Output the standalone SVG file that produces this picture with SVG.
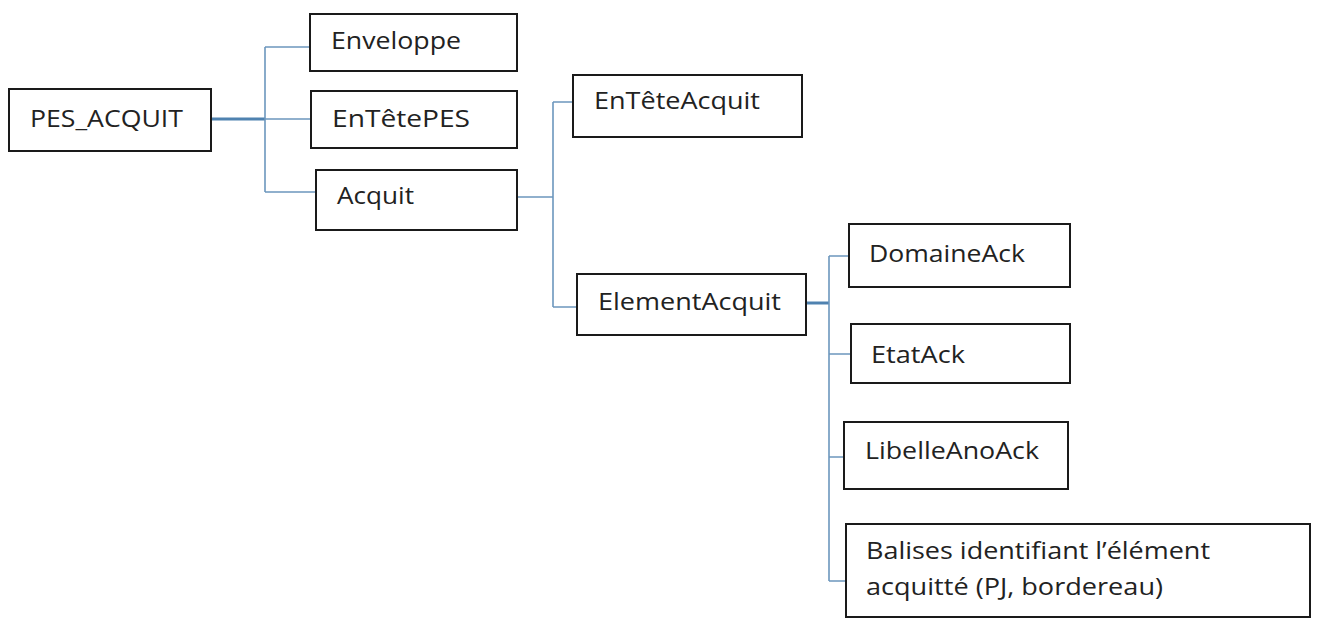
<svg xmlns="http://www.w3.org/2000/svg" width="1318" height="622" viewBox="0 0 1318 622">
<style>
.box{fill:#fff;stroke:#1a1a1a;stroke-width:2}
.t{font-family:"Open Sans","Noto Sans",sans-serif;font-size:23px;fill:#222}
.c{fill:none;stroke:#6c97bd;stroke-width:1.6}
.ck{fill:none;stroke:#4f82b0;stroke-width:3}
</style>
<rect width="1318" height="622" fill="#fff"/>
<g id="connectors">
<path class="ck" d="M211 119H265"/>
<path class="c" d="M265 119H311M265 47V192M265 47H310M265 192H316"/>
<path class="c" d="M517 197H553M553 102V307M553 102H573M553 307H577"/>
<path class="ck" d="M806 303H829"/>
<path class="c" d="M829 256V581M829 256H849M829 354H851M829 457H844M829 581H846"/>
</g>
<g id="PES_ACQUIT"><rect class="box" x="9" y="89" width="202" height="62"/><text class="t" x="30" y="127" textLength="153" lengthAdjust="spacingAndGlyphs">PES_ACQUIT</text></g>
<g id="Enveloppe"><rect class="box" x="310" y="14" width="207" height="57"/><text class="t" x="331" y="49" textLength="130" lengthAdjust="spacingAndGlyphs">Enveloppe</text></g>
<g id="EnTetePES"><rect class="box" x="311" y="91" width="206" height="57"/><text class="t" x="332" y="127" textLength="138" lengthAdjust="spacingAndGlyphs">EnTêtePES</text></g>
<g id="Acquit"><rect class="box" x="316" y="170" width="201" height="60"/><text class="t" x="337" y="204" textLength="77" lengthAdjust="spacingAndGlyphs">Acquit</text></g>
<g id="EnTeteAcquit"><rect class="box" x="573" y="75" width="229" height="62"/><text class="t" x="594" y="109" textLength="166" lengthAdjust="spacingAndGlyphs">EnTêteAcquit</text></g>
<g id="ElementAcquit"><rect class="box" x="577" y="274" width="229" height="61"/><text class="t" x="598" y="310" textLength="183" lengthAdjust="spacingAndGlyphs">ElementAcquit</text></g>
<g id="DomaineAck"><rect class="box" x="849" y="224" width="221" height="63"/><text class="t" x="869" y="262" textLength="156" lengthAdjust="spacingAndGlyphs">DomaineAck</text></g>
<g id="EtatAck"><rect class="box" x="851" y="324" width="219" height="59"/><text class="t" x="871" y="363" textLength="94" lengthAdjust="spacingAndGlyphs">EtatAck</text></g>
<g id="LibelleAnoAck"><rect class="box" x="844" y="422" width="224" height="67"/><text class="t" x="865" y="459" textLength="174" lengthAdjust="spacingAndGlyphs">LibelleAnoAck</text></g>
<g id="Balises"><rect class="box" x="846" y="524" width="464" height="93"/><text class="t" x="866" y="559" textLength="344" lengthAdjust="spacingAndGlyphs">Balises identifiant l’élément</text><text class="t" x="866" y="595" textLength="297" lengthAdjust="spacingAndGlyphs">acquitté (PJ, bordereau)</text></g>
</svg>
